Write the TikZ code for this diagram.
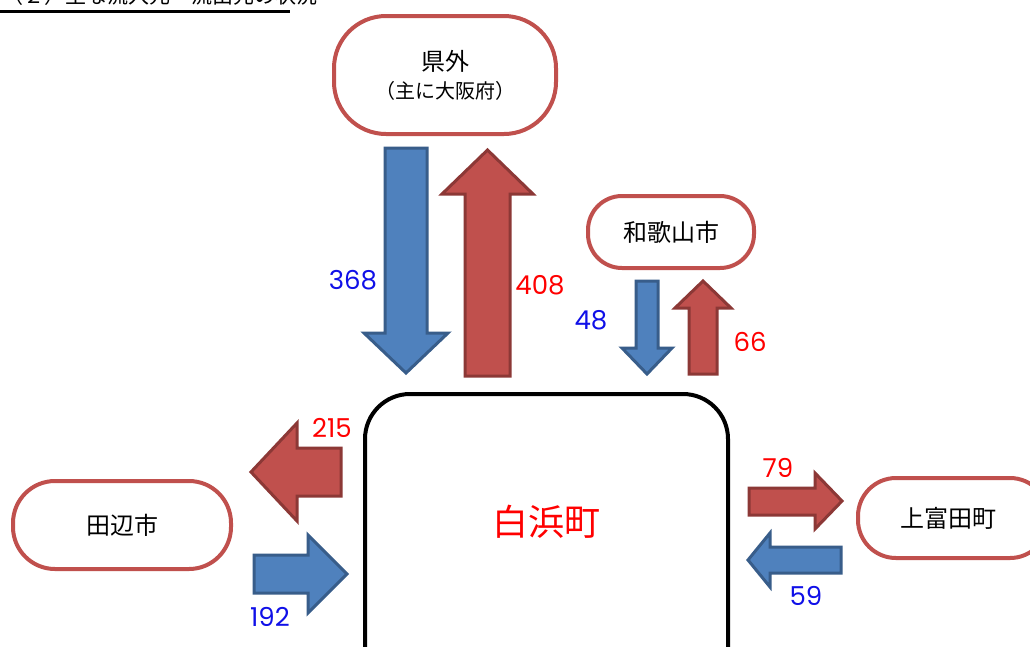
\documentclass[tikz,border=0pt]{standalone}
\usepackage{fontspec}
\setmainfont{Poppins}
\newfontfamily\jp{Noto Sans CJK JP}
\definecolor{nodeborder}{HTML}{C0504D}
\definecolor{redfill}{HTML}{C0504D}
\definecolor{redline}{HTML}{8C3836}
\definecolor{bluefill}{HTML}{4F81BD}
\definecolor{blueline}{HTML}{385D8A}
\definecolor{numblue}{HTML}{1010E8}
\definecolor{numred}{HTML}{FF0000}
\tikzset{
  place/.style={draw=nodeborder, line width=4pt, fill=white, font=\jp\fontsize{24}{26}\selectfont, align=center},
  redarrow/.style={fill=redfill, draw=redline, line width=3pt, line join=miter},
  bluearrow/.style={fill=bluefill, draw=blueline, line width=3pt, line join=miter},
  bnum/.style={text=numblue, font=\fontsize{26}{28}\selectfont},
  rnum/.style={text=numred, font=\fontsize{26}{28}\selectfont},
}
\begin{document}
\begin{tikzpicture}[x=1pt,y=-1pt]
\useasboundingbox (0,0) rectangle (1030,646);
\fill[white] (0,0) rectangle (1030,646);
% clipped title
\node[anchor=base west, inner sep=0pt, font=\jp\fontsize{21}{22}\selectfont] (title) at (2,3) {（２）主な流入元・流出先の状況};
\draw[line width=3pt] (0,11) -- (290,11);
% places
\node[place, minimum width=222pt, minimum height=118pt, rounded corners=52pt] (ken) at (445,75) {県外\\[2pt]{\fontsize{20}{22}\selectfont （主に大阪府）}};
\node[place, minimum width=166pt, minimum height=72pt, rounded corners=34pt] (waka) at (671,232) {和歌山市};
\node[place, minimum width=218pt, minimum height=88pt, rounded corners=42pt] (tanabe) at (122,525) {田辺市};
\node[place, minimum width=190pt, minimum height=80pt, rounded corners=38pt, anchor=west] (kami) at (856,518) {};
\node at (948,518) [font=\jp\fontsize{24}{26}\selectfont] (kamilabel) {上富田町};
% central box
\draw[line width=4pt, rounded corners=45pt] (365,700) -- (365,394) -- (728,394) -- (728,700);
\node[text=numred, font=\jp\fontsize{36}{38}\selectfont] (shira) at (546,522) {白浜町};
% arrows 県外
\draw[bluearrow] (385,148) -- (427,148) -- (427,333) -- (448,333) -- (406,373) -- (364,333) -- (385,333) -- cycle;
\draw[redarrow] (465,376) -- (510,376) -- (510,194) -- (533,194) -- (487.5,150) -- (442,194) -- (465,194) -- cycle;
% arrows 和歌山市
\draw[bluearrow] (636,281) -- (658,281) -- (658,348) -- (672,348) -- (647,374) -- (622,348) -- (636,348) -- cycle;
\draw[redarrow] (689,374) -- (717,374) -- (717,308) -- (731,308) -- (703,281) -- (675,308) -- (689,308) -- cycle;
% arrows 田辺市
\draw[redarrow] (341,448) -- (341,496) -- (297,496) -- (297,521) -- (251,472) -- (297,423) -- (297,448) -- cycle;
\draw[bluearrow] (254,555) -- (308,555) -- (308,535) -- (347,574) -- (308,613) -- (308,593) -- (254,593) -- cycle;
% arrows 上富田町
\draw[redarrow] (749,488) -- (815,488) -- (815,473) -- (842,501) -- (815,529) -- (815,515) -- (749,515) -- cycle;
\draw[bluearrow] (841,547) -- (770,547) -- (770,533) -- (748,560) -- (770,587) -- (770,573) -- (841,573) -- cycle;
% numbers
\node[bnum] (n368) at (353,280) {368};
\node[rnum] (n408) at (540,285) {408};
\node[bnum] (n48) at (591,320) {48};
\node[rnum] (n66) at (750,342) {66};
\node[rnum] (n215) at (332,428) {215};
\node[bnum] (n192) at (270,617) {192};
\node[rnum] (n79) at (778,468) {79};
\node[bnum] (n59) at (806,596) {59};
\end{tikzpicture}
\end{document}
